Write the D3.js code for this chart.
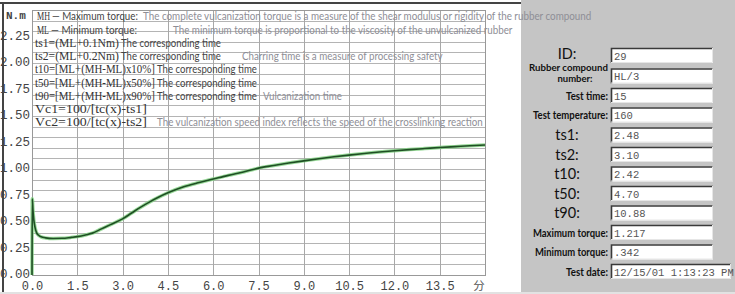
<!DOCTYPE html>
<html><head><meta charset="utf-8">
<script src="https://cdn.jsdelivr.net/npm/d3@7"></script>
<style>
html,body{margin:0;padding:0;background:#fff;}
svg{display:block;}
</style></head>
<body>
<svg id="c" width="735" height="294"></svg>
<script>
// ---- data ----
const xTicks = [0, 1.5, 3.0, 4.5, 6.0, 7.5, 9.0, 10.5, 12.0, 13.5];
const yTicks = [0, 0.25, 0.5, 0.75, 1.0, 1.25, 1.5, 1.75, 2.0, 2.25];
const xUnit = "分";
const yUnit = "N.m";
const time   = [0, 0.01, 0.03, 0.06, 0.1, 0.15, 0.22, 0.3, 0.45, 0.7, 1.0, 1.3, 1.5, 1.8, 2.0, 2.3, 2.6, 3.0, 3.3, 3.6, 3.9, 4.2, 4.5, 5.0, 5.5, 6.0, 6.5, 7.0, 7.5, 8.0, 8.5, 9.0, 9.5, 10.0, 10.5, 11.0, 11.5, 12.0, 12.5, 13.0, 13.5, 14.0, 14.5, 15.0];
const torque = [0, 0.72, 0.62, 0.52, 0.45, 0.40, 0.375, 0.36, 0.35, 0.345, 0.346, 0.355, 0.362, 0.38, 0.395, 0.435, 0.475, 0.53, 0.585, 0.64, 0.69, 0.735, 0.775, 0.83, 0.87, 0.905, 0.94, 0.972, 1.008, 1.033, 1.056, 1.077, 1.097, 1.115, 1.131, 1.146, 1.16, 1.172, 1.183, 1.193, 1.203, 1.211, 1.219, 1.226];

const legendFormula = ["MH", "ML", "ts1=(ML+0.1Nm)", "ts2=(ML+0.2Nm)", "t10=[ML+(MH-ML)x10%]", "t50=[ML+(MH-ML)x50%]", "t90=[ML+(MH-ML)x90%]", "Vc1=100/[tc(x)-ts1]", "Vc2=100/[tc(x)-ts2]"];
const legendLabel = ["— Maximum torque:", "— Minimum torque:", "The corresponding time", "The corresponding time", "The corresponding time", "The corresponding time", "The corresponding time", "", ""];
const legendNote = [
  "The complete vulcanization torque is a measure of the shear modulus or rigidity of the rubber compound",
  "The minimum torque is proportional to the viscosity of the unvulcanized rubber",
  "",
  "Charring time is a measure of processing safety",
  "", "",
  "Vulcanization time",
  "",
  "The vulcanization speed index reflects the speed of the crosslinking reaction"];

const panelLabels = ["ID:", "Rubber compound|number:", "Test time:", "Test temperature:", "ts1:", "ts2:", "t10:", "t50:", "t90:", "Maximum torque:", "Minimum torque:", "Test date:"];
const panelValues = ["29", "HL/3", "15", "160", "2.48", "3.10", "2.42", "4.70", "10.88", "1.217", ".342", "12/15/01 1:13:23 PM"];

// ---- layout ----
const svg = d3.select("#c");
const x = d3.scaleLinear().domain([0, 15]).range([32, 485]);
const y = d3.scaleLinear().domain([0, 2.5]).range([275, 10]);
const SANS = "Lato, Noto Sans, sans-serif";

// text fitted to a given width by horizontal scaling
function fitText(parent, str, left, base, width, font, size, color, weight) {
  const t = parent.append("text").attr("x",0).attr("y",0)
    .attr("font-family", font).attr("font-size", size+"px").attr("fill", color)
    .attr("font-weight", weight || "normal").text(str);
  const w = t.node().getComputedTextLength();
  t.attr("transform", `translate(${left},${base}) scale(${width/w},1)`);
  return t;
}

// frame
svg.append("rect").attr("x",0).attr("y",0).attr("width",735).attr("height",294).attr("fill","#fff");
svg.append("rect").attr("x",521).attr("y",0).attr("width",214).attr("height",292).attr("fill","#c5c5c5");
svg.append("line").attr("x1",0).attr("x2",521).attr("y1",3).attr("y2",3).attr("stroke","#444").attr("stroke-width",2);
svg.append("line").attr("x1",3).attr("x2",3).attr("y1",3).attr("y2",294).attr("stroke","#444").attr("stroke-width",2);
svg.append("rect").attr("x",0).attr("y",292).attr("width",735).attr("height",2).attr("fill","#e2e2e2");

// grid
const g = svg.append("g");
g.selectAll("line.h").data(y.ticks(20)).join("line")
  .attr("x1", x(0)).attr("x2", x(15))
  .attr("y1", d => Math.round(y(d))+0.5).attr("y2", d => Math.round(y(d))+0.5)
  .attr("stroke", "#b4b4b4").attr("stroke-width", 1);
g.selectAll("line.v").data(xTicks.concat([15])).join("line")
  .attr("y1", y(0)).attr("y2", y(2.5))
  .attr("x1", d => Math.round(x(d))+0.5).attr("x2", d => Math.round(x(d))+0.5)
  .attr("stroke", "#a8a8a8").attr("stroke-width", 1);
svg.append("rect").attr("x", x(0)+0.5).attr("y", y(2.5)+0.5).attr("width", x(15)-x(0)).attr("height", y(0)-y(2.5))
  .attr("fill","none").attr("stroke","#999");

// axes
const yAxis = svg.append("g").attr("transform", `translate(${x(0)},0)`)
  .call(d3.axisLeft(y).tickValues(yTicks).tickFormat(d3.format(".2f")).tickSize(0).tickPadding(2));
yAxis.select(".domain").remove();
yAxis.selectAll("text").attr("font-family","Liberation Mono, DejaVu Sans Mono, monospace").attr("font-size","12.5px").attr("fill","#444").attr("dy","0.2em");
const xAxis = svg.append("g").attr("transform", `translate(0,${y(0)})`)
  .call(d3.axisBottom(x).tickValues(xTicks).tickFormat(d3.format(".1f")).tickSize(0).tickPadding(6));
xAxis.select(".domain").remove();
xAxis.selectAll("text").attr("font-family","Liberation Mono, DejaVu Sans Mono, monospace").attr("font-size","12px").attr("fill","#444");
svg.append("text").attr("x", x(14.8)).attr("y", 290).attr("text-anchor","middle")
  .attr("font-family","Noto Sans CJK SC").attr("font-size","11.5px").attr("fill","#555").text(xUnit);
svg.append("text").attr("x", 6).attr("y", 19).attr("font-family","Liberation Mono, monospace")
  .attr("font-size","11px").attr("font-weight","bold").attr("fill","#444").text(yUnit);

// curve
const pts = time.map((t,i)=>[t, torque[i]]);
const line = d3.line().x(d=>x(d[0])).y(d=>y(d[1])).curve(d3.curveMonotoneX);
svg.append("path").attr("d", line(pts)).attr("fill","none").attr("stroke","#7fd07f").attr("stroke-width",3.5).attr("opacity",0.8);
svg.append("path").attr("d", line(pts)).attr("fill","none").attr("stroke","#1f4f24").attr("stroke-width",1.6);

// legend
const rowY = i => y(2.5) + 13.25*(i+1) - 3;
const formulaW = [13, 12, 84, 84, 120, 120, 120, 112, 112];
const leg = svg.append("g");
legendFormula.forEach((f,i)=>{
  const fx = i < 2 ? 37 : 35;
  fitText(leg, f, fx, rowY(i), formulaW[i], "Liberation Serif, serif", 12, "#333");
  if (legendLabel[i]) {
    const lx = fx + formulaW[i] + 2;
    const lw = i < 2 ? 86 : 100;
    fitText(leg, legendLabel[i], lx, rowY(i), lw, SANS, 11, "#444");
  }
});
const noteX = [143, 173, 0, 242, 0, 0, 263, 0, 157];
const noteW = [449, 340, 0, 201, 0, 0, 79, 0, 326];
legendNote.forEach((n,i)=>{
  if (!n) return;
  fitText(leg, n, noteX[i], rowY(i), noteW[i], SANS, 11, "#8e8e96");
});

// right panel
const boxTop = [48, 68.5, 88, 107.5, 127.5, 147, 166.5, 186, 205.5, 225, 244.5, 264];
const big = [true, false, false, false, true, true, true, true, true, false, false, false];
const widths = {"Test time:":42, "Test temperature:":75, "Maximum torque:":75, "Minimum torque:":73, "Test date:":42};
const panel = svg.append("g");
panelValues.forEach((v,i)=>{
  const bx = 611, by = boxTop[i], bw = i===11 ? 120 : 102, bh = 15;
  panel.append("rect").attr("x",bx).attr("y",by).attr("width",bw).attr("height",bh).attr("fill","#fff");
  panel.append("path").attr("d",`M${bx+0.5},${by+bh} V${by+0.5} H${bx+bw}`).attr("fill","none").attr("stroke","#3a3a3a").attr("stroke-width",1.6);
  panel.append("path").attr("d",`M${bx+bw-0.5},${by} V${by+bh-0.5} H${bx}`).attr("fill","none").attr("stroke","#e6e6e6").attr("stroke-width",1);
  panel.append("text").attr("x",bx+3).attr("y",by+11.5)
    .attr("font-family","Liberation Mono, monospace").attr("font-size","10.5px").attr("fill","#555").text(v);
  const lbl = panelLabels[i];
  const cy = by + bh/2;
  if (big[i]) {
    panel.append("text").attr("x", 567).attr("y", i===0 ? 58.5 : cy+5).attr("text-anchor","middle")
      .attr("font-family", SANS).attr("font-size","14.5px").attr("fill","#111").text(lbl);
  } else if (lbl.includes("|")) {
    const parts = lbl.split("|");
    fitText(panel, parts[0], 529, 71, 79, SANS, 9, "#111", "bold");
    panel.append("text").attr("x", 575).attr("y", 82).attr("text-anchor","middle")
      .attr("font-family", SANS).attr("font-size","9.5px").attr("font-weight","bold").attr("fill","#111").text(parts[1]);
  } else {
    fitText(panel, lbl, 608 - widths[lbl], cy+4, widths[lbl], SANS, 11, "#111", "bold");
  }
});
</script>
</body></html>
